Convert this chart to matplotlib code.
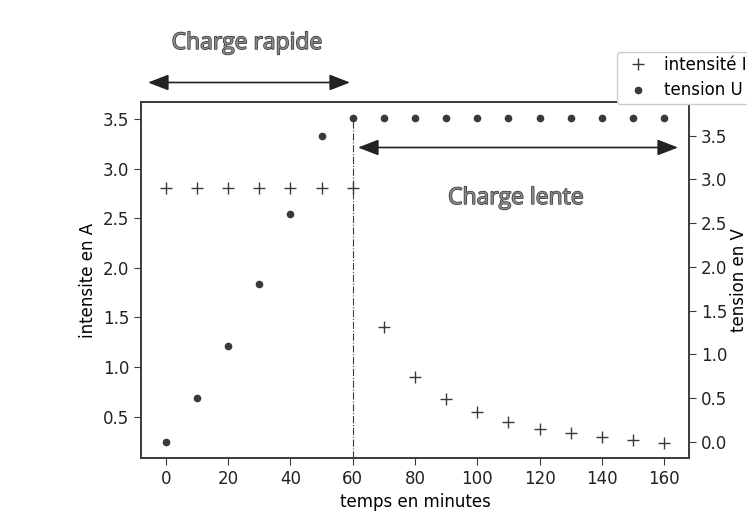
import matplotlib.pyplot as plt
import matplotlib.patheffects as pe
from matplotlib.patches import FancyArrowPatch
from matplotlib.lines import Line2D

# Data
temps = [0, 10, 20, 30, 40, 50, 60, 70, 80, 90, 100, 110, 120, 130, 140, 150, 160]
intensite = [2.8, 2.8, 2.8, 2.8, 2.8, 2.8, 2.8, 1.4, 0.9, 0.68, 0.55, 0.45,
             0.38, 0.34, 0.30, 0.27, 0.24]
tension = [0.0, 0.5, 1.1, 1.8, 2.6, 3.5, 3.7, 3.7, 3.7, 3.7, 3.7, 3.7,
           3.7, 3.7, 3.7, 3.7, 3.7]
t_bascule = 60

gris = "#3a3a3a"
plt.rcParams["font.size"] = 12

fig = plt.figure(figsize=(7.47, 5.24), dpi=100)
ax1 = fig.add_axes([0.1888, 0.126, 0.7336, 0.6793])
ax2 = ax1.twinx()

ax1.plot(temps, intensite, "+", color=gris, markersize=8, markeredgewidth=1.0)
ax2.plot(temps, tension, "o", color=gris, markersize=4.5)

# ligne de bascule charge rapide / charge lente
ax2.vlines(t_bascule, -0.185, tension[temps.index(t_bascule)], colors=gris,
           linestyles="-.", linewidth=0.8)

ax1.set_xlim(-8, 168)
ax1.set_ylim(0.085, 3.67)
ax2.set_ylim(-0.185, 3.885)
ax1.set_xticks(range(0, 161, 20))
ax1.set_yticks([0.5, 1.0, 1.5, 2.0, 2.5, 3.0, 3.5])
ax2.set_yticks([0.0, 0.5, 1.0, 1.5, 2.0, 2.5, 3.0, 3.5])

ax1.set_xlabel("temps en minutes")
ax1.set_ylabel("intensite en A")
ax2.set_ylabel("tension en V", labelpad=2)

for ax in (ax1, ax2):
    for s in ax.spines.values():
        s.set_color(gris)
        s.set_linewidth(1.2)
    ax.tick_params(colors=gris, labelcolor="#222222", length=5)

# legende (debordant du cadre, comme sur l'original)
handles = [Line2D([], [], ls="", marker="+", color=gris, markersize=8),
           Line2D([], [], ls="", marker="o", color=gris, markersize=4.5)]
fig.legend(handles, ["intensité I", "tension U"], loc="upper left",
           bbox_to_anchor=(616.7 / 747, 1 - 51.7 / 524), borderaxespad=0,
           borderpad=0.25, frameon=True, edgecolor="#cccccc", framealpha=1,
           fontsize=12, handletextpad=0.6, labelspacing=0.45)

# annotations
effet = [pe.Stroke(linewidth=1.0, foreground="#333333"), pe.Normal()]
fig.text(247 / 747, 1 - 43 / 524, "Charge rapide", ha="center", va="center",
         fontsize=16.5, family="Open Sans", color="#8a8a8a", path_effects=effet)
fig.text(516 / 747, 1 - 198 / 524, "Charge lente", ha="center", va="center",
         fontsize=16.5, family="Open Sans", color="#8a8a8a", path_effects=effet)

for x0, x1, y in [(148, 350, 82.5), (358, 678, 147.5)]:
    fig.patches.append(FancyArrowPatch((x0 / 747, 1 - y / 524), (x1 / 747, 1 - y / 524),
                                       transform=fig.transFigure,
                                       arrowstyle="<|-|>,head_length=0.9,head_width=0.35",
                                       mutation_scale=14, color="#222222", linewidth=1.2,
                                       shrinkA=0, shrinkB=0))

fig.savefig("out.png", dpi=100, facecolor="white")
